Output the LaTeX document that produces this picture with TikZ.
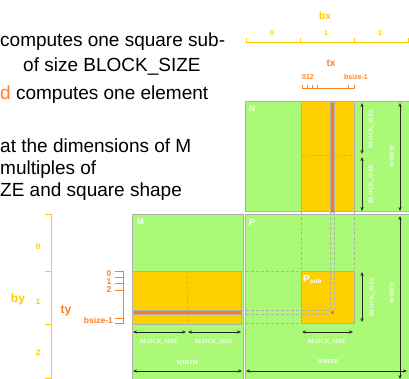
\documentclass[tikz,border=0pt]{standalone}
\usepackage{fontspec}
\setmainfont{Liberation Sans}
\newfontfamily\serifb{Liberation Serif}
\usetikzlibrary{arrows.meta}
\definecolor{mgreen}{RGB}{170,250,120}
\definecolor{myellow}{RGB}{255,208,0}
\definecolor{morange}{RGB}{245,125,30}
\definecolor{mgray}{RGB}{176,176,176}
\definecolor{axyellow}{RGB}{255,204,0}
\definecolor{axorange}{RGB}{255,128,32}
\definecolor{tred}{RGB}{224,32,16}
\begin{document}
\begin{tikzpicture}[x=1pt,y=-1pt,
  mat/.style={fill=mgreen,draw=mgray,line width=1pt},
  blk/.style={fill=myellow,draw=mgray,line width=1pt},
  rowline/.style={fill=morange,draw=mgray,line width=0.8pt},
  guide/.style={draw=mgray,line width=0.8pt,dash pattern=on 3pt off 2pt},
  dimarrow/.style={draw=black!85,line width=0.8pt,{Stealth[length=4pt,width=3.2pt]}-{Stealth[length=4pt,width=3.2pt]}},
  wlab/.style={text=white,font=\serifb\bfseries\fontsize{6}{6}\selectfont,inner sep=0pt},
  mlab/.style={text=white,font=\bfseries\fontsize{8}{8}\selectfont,inner sep=0pt},
  yaxis/.style={draw=axyellow,line width=1pt},
  oaxis/.style={draw=axorange,line width=1pt},
  ysmall/.style={text=axyellow,font=\bfseries\fontsize{7}{7}\selectfont,inner sep=0pt},
  ymid/.style={text=axyellow,font=\bfseries\fontsize{8}{8}\selectfont,inner sep=0pt},
  osmall/.style={text=axorange,font=\bfseries\fontsize{7}{7}\selectfont,inner sep=0pt},
  omid/.style={text=axorange,font=\bfseries\fontsize{8.5}{8.5}\selectfont,inner sep=0pt},
  ybig/.style={text=axyellow,font=\bfseries\fontsize{11}{11}\selectfont,inner sep=0pt},
  obig/.style={text=axorange,font=\bfseries\fontsize{11}{11}\selectfont,inner sep=0pt},
  body/.style={font=\fontsize{19}{20}\selectfont,anchor=base west,inner sep=0pt},
]
\useasboundingbox (0,0) rectangle (409,379);
\clip (0,0) rectangle (409,379);
\fill[white] (0,0) rectangle (409,379);

% title (cut off by the top edge)
\node[text=tred,font=\fontsize{28}{28}\selectfont,anchor=base west,inner sep=0pt] (title) at (-14,-11) {Multiply Using Several Blocks};

% body text
\node[body] (t1) at (0,47) {computes one square sub-};
\node[body] (t2) at (23,72) {of size BLOCK\_SIZE};
\node[body] (t3) at (0,100) {\textcolor{axorange}{d} computes one element};
\node[body] (t4) at (0,153) {at the dimensions of M};
\node[body] (t5) at (0,175) {multiples of};
\node[body] (t6) at (0,197) {ZE and square shape};

% ---------- matrix N ----------
\draw[mat] (245,102) rectangle (415,212);
\draw[blk] (301,102) rectangle (354,212);
\draw[rowline] (330,102) rectangle (334,212);
\draw[guide] (301,155) -- (330,155) (334,155) -- (354,155);
\node[mlab,anchor=north west] (Nl) at (249,106) {N};
\draw[dimarrow] (362,103) -- (362,154);
\draw[dimarrow] (362,157) -- (362,211);
\draw[dimarrow] (400,103) -- (400,211);
\node[wlab,rotate=90] (nb1) at (371,129) {BLOCK\_SIZE};
\node[wlab,rotate=90] (nb2) at (371,184) {BLOCK\_SIZE};
\node[wlab,rotate=90] (nw) at (392,157) {WIDTH};

% ---------- matrix M ----------
\draw[mat] (132,215) rectangle (243,385);
\draw[blk] (132.5,271) rectangle (241.5,324);
\draw[rowline] (133,310) rectangle (241,314);
\draw[guide] (187,271) -- (187,310) (187,314) -- (187,324);
\node[mlab,anchor=north west] (Ml) at (137,219) {M};
\draw[dimarrow] (133,332) -- (186,332);
\draw[dimarrow] (188,332) -- (241,332);
\draw[dimarrow] (133,371) -- (242,371);
\node[wlab] (mb1) at (159,342) {BLOCK\_SIZE};
\node[wlab] (mb2) at (214,342) {BLOCK\_SIZE};
\node[wlab] (mw) at (187,363) {WIDTH};

% ---------- matrix P ----------
\draw[mat] (245,215) rectangle (415,385);
\draw[blk] (301,271) rectangle (354,323);
\node[text=white,font=\bfseries\fontsize{9}{9}\selectfont,inner sep=0pt,anchor=north west] (Pl) at (249,219) {P};
\node[text=white,font=\bfseries\fontsize{10}{10}\selectfont,inner sep=0pt,anchor=north west] (Psl) at (303,275) {P\textsubscript{\fontsize{6.5}{6.5}\selectfont sub}};

% guide lines
\draw[guide] (301,212) -- (301,271) (354,212) -- (354,271);
\draw[guide] (330,212) -- (330,310) (334,212) -- (334,310);
\draw[guide] (241,271) -- (301,271) (241,323) -- (301,323);
\draw[guide] (241,310) -- (330,310) (241,314) -- (330,314);
\fill[morange] (330.5,310.5) rectangle (333.5,313.5);

\draw[dimarrow] (362,272) -- (362,322);
\draw[dimarrow] (302,332) -- (353,332);
\draw[dimarrow] (246,371) -- (407,371);
\draw[dimarrow] (400,216) -- (400,379);
\node[wlab,rotate=90] (pb1) at (372,297) {BLOCK\_SIZE};
\node[wlab] (pb2) at (327,342) {BLOCK\_SIZE};
\node[wlab] (pw1) at (328,362) {WIDTH};
\node[wlab,rotate=90] (pw2) at (392,293) {WIDTH};

% ---------- bx axis ----------
\draw[yaxis] (246,38) -- (246,43) -- (408,43) -- (408,38) (300,43) -- (300,38) (354,43) -- (354,38);
\node[ysmall] (bx0) at (272,33) {0};
\node[ysmall] (bx1) at (326,33) {1};
\node[ysmall] (bx2) at (380,33) {2};
\node[ybig,font=\bfseries\fontsize{10}{10}\selectfont] (bx) at (325,16) {bx};

% ---------- tx axis ----------
\draw[oaxis] (302,85) -- (302,89) -- (354,89) -- (354,85)
  (307,89) -- (307,85) (312,89) -- (312,85) (317,89) -- (317,85) (348,89) -- (348,85);
\node[osmall] (tx012) at (308,77) {012};
\node[osmall] (txb) at (356,77) {bsize-1};
\node[obig,font=\bfseries\fontsize{10}{10}\selectfont] (tx) at (331,63) {tx};

% ---------- by axis ----------
\draw[yaxis] (45,215) -- (51,215) -- (51,378) -- (45,378) (45,271) -- (51,271) (45,324) -- (51,324);
\node[ymid] (by0) at (38,247) {0};
\node[ymid] (by1) at (38,302) {1};
\node[ymid] (by2) at (38,353) {2};
\node[ybig,font=\bfseries\fontsize{12}{12}\selectfont] (by) at (18,299) {by};

% ---------- ty axis ----------
\draw[oaxis] (115,271) -- (123,271) -- (123,323) -- (115,323)
  (115,277) -- (123,277) (115,283) -- (123,283) (115,290) -- (123,290) (115,318) -- (123,318);
\node[omid] (ty0) at (109,274) {0};
\node[omid] (ty1) at (109,282) {1};
\node[omid] (ty2) at (109,290) {2};
\node[omid,anchor=east] (tyb) at (113,320) {bsize-1};
\node[obig,font=\bfseries\fontsize{12}{12}\selectfont] (ty) at (66,311) {ty};
\end{tikzpicture}
\end{document}
